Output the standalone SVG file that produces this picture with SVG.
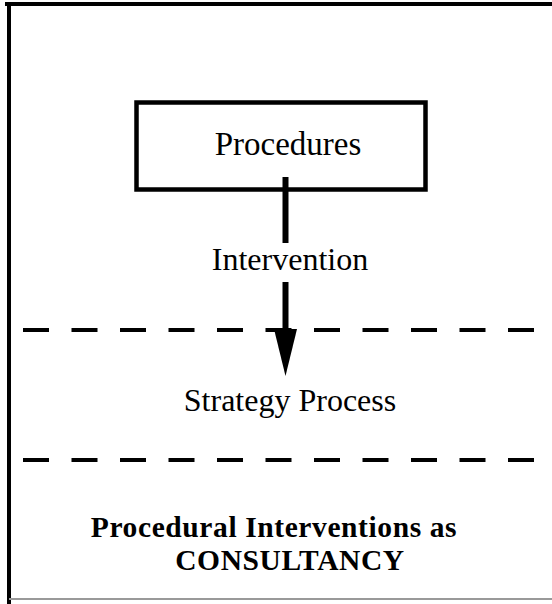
<svg xmlns="http://www.w3.org/2000/svg" width="552" height="604" viewBox="0 0 552 604">
<style>
.t{font-family:"Liberation Serif","Times New Roman",serif;fill:#000;text-anchor:middle}
.n{font-size:32px}
.b{font-size:29.5px;font-weight:bold;letter-spacing:0.6px}
.dash{stroke:#000;stroke-width:4;stroke-dasharray:26 22.5;fill:none}
</style>
<rect width="552" height="604" fill="#fff"/>
<g id="frame" fill="none" stroke="#000">
<line x1="5" y1="4" x2="552" y2="4" stroke-width="4"/>
<line x1="9" y1="2" x2="9" y2="604" stroke-width="4"/>
<line x1="9" y1="599" x2="552" y2="599" stroke-width="2" stroke="#999"/>
</g>
<g id="dividers">
<line class="dash" x1="23" y1="330" x2="552" y2="330"/>
<line class="dash" x1="23" y1="460" x2="552" y2="460"/>
</g>
<g id="procedures">
<rect x="136.5" y="102.5" width="289" height="87" fill="none" stroke="#000" stroke-width="4.5"/>
<text class="t n" x="288" y="155" style="font-size:33px">Procedures</text>
</g>
<g id="connectors" stroke="#000" stroke-width="6" fill="none">
<line x1="285.5" y1="177" x2="285.5" y2="243"/>
<path d="M285.5,282 V330"/>
<path d="M274,329 L297,329 L285.5,376 Z" fill="#000" stroke="none"/>
</g>
<g id="intervention-label">
<text class="t n" x="290" y="270">Intervention</text>
</g>
<g id="strategy-process">
<text class="t n" x="290" y="411">Strategy Process</text>
</g>
<g id="title">
<text class="t b" x="274" y="537">Procedural Interventions as</text>
<text class="t b" x="290" y="570">CONSULTANCY</text>
</g>
</svg>
